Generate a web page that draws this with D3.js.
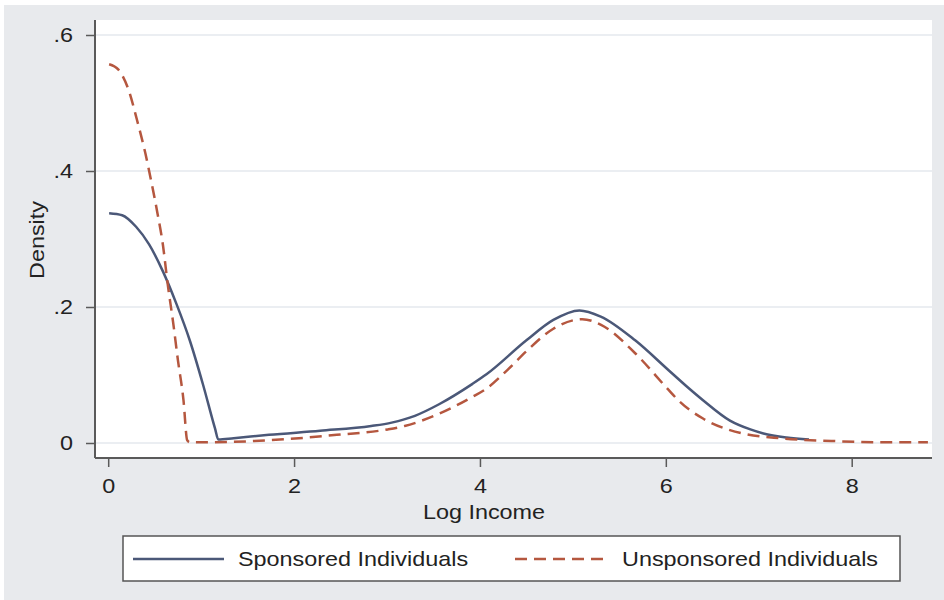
<!doctype html>
<html>
<head>
  <meta charset="utf-8">
  <title>log income density</title>
  <style>
    html, body { margin: 0; padding: 0; background: #fff; }
    svg { display: block; }
    text { font-family: "Liberation Sans", Arial, sans-serif; fill: #222; }
  </style>
</head>
<body>
  <div id="chart"></div>
  <script src="https://cdn.jsdelivr.net/npm/d3@7"></script>
  <script>
    // kernel density
    const sponsoredX = [0.01, 0.15, 0.30, 0.44, 0.59, 0.73, 0.88, 1.02, 1.15, 1.185, 1.35, 1.73, 2.28, 2.83, 3.05, 3.30, 3.56, 3.92, 4.07, 4.50, 4.79, 5.07, 5.30, 5.67, 6.03, 6.21, 6.40, 6.69, 6.91, 7.05, 7.30, 7.54];
    const sponsoredY = [0.338, 0.335, 0.318, 0.292, 0.252, 0.206, 0.150, 0.086, 0.021, 0.005, 0.007, 0.012, 0.018, 0.025, 0.030, 0.040, 0.057, 0.087, 0.101, 0.151, 0.181, 0.195, 0.186, 0.151, 0.107, 0.085, 0.063, 0.033, 0.020, 0.014, 0.008, 0.005];

    const unsponsoredX = [0.01, 0.11, 0.22, 0.31, 0.40, 0.46, 0.53, 0.59, 0.64, 0.70, 0.75, 0.81, 0.85, 0.88, 1.00, 1.73, 2.46, 3.01, 3.19, 3.56, 3.92, 4.07, 4.30, 4.50, 4.79, 5.10, 5.34, 5.67, 6.03, 6.14, 6.40, 6.69, 6.83, 7.23, 7.78, 8.30, 8.82];
    const unsponsoredY = [0.557, 0.549, 0.519, 0.475, 0.426, 0.387, 0.338, 0.290, 0.234, 0.176, 0.122, 0.063, 0.004, 0.001, 0.001, 0.004, 0.012, 0.020, 0.025, 0.043, 0.068, 0.080, 0.108, 0.135, 0.168, 0.182, 0.171, 0.132, 0.078, 0.062, 0.036, 0.019, 0.014, 0.007, 0.003, 0.001, 0.001];

    const xTicks = [0, 2, 4, 6, 8];
    const yTicks = [0, 0.2, 0.4, 0.6];
    const yTickLabels = ['0', '.2', '.4', '.6'];
    const seriesNames = ['Sponsored Individuals', 'Unsponsored Individuals'];

    const W = 944, H = 600;
    const stretch = 1.17; // glyphs in the picture are a bit wide
    const colSpon = '#4b5878';
    const colUnspon = '#b5573f';
    const dash = '12,7';

    const svg = d3.select('#chart').append('svg').attr('width', W).attr('height', H);

    // grey graph region
    svg.append('rect').attr('x', 4).attr('y', 5).attr('width', W - 4).attr('height', H - 5).attr('fill', '#e8eaed');

    const plot = { left: 95, right: 932, top: 20, bottom: 458 };
    svg.append('rect').attr('x', plot.left).attr('y', plot.top)
      .attr('width', plot.right - plot.left).attr('height', plot.bottom - plot.top).attr('fill', '#fff');

    const x = d3.scaleLinear().domain([-0.142, 8.864]).range([plot.left, plot.right]);
    const y = d3.scaleLinear().domain([0, 0.6]).range([443, 35]);

    // horizontal grid
    svg.append('g').selectAll('line').data(yTicks).join('line')
      .attr('x1', plot.left).attr('x2', plot.right)
      .attr('y1', d => y(d)).attr('y2', d => y(d))
      .attr('stroke', '#e4e9ee').attr('stroke-width', 1.5);

    // axes
    const yAxis = d3.axisLeft(y).tickValues(yTicks).tickSize(9).tickPadding(13)
      .tickFormat((d, i) => yTickLabels[i]);
    const gy = svg.append('g').attr('transform', `translate(${plot.left},0)`).call(yAxis);

    const xAxis = d3.axisBottom(x).tickValues(xTicks).tickSize(9).tickPadding(12).tickFormat(d3.format('d'));
    const gx = svg.append('g').attr('transform', `translate(0,${plot.bottom})`).call(xAxis);

    [gx, gy].forEach(g => {
      g.select('.domain').attr('stroke', '#5a5a5a').attr('stroke-width', 2);
      g.selectAll('.tick line').attr('stroke', '#5a5a5a').attr('stroke-width', 1.5);
      g.selectAll('.tick text').attr('font-size', 20).attr('fill', '#222')
        .attr('font-family', '"Liberation Sans", Arial, sans-serif');
    });
    gx.select('.domain').attr('d', `M${plot.left},0H${plot.right}`);
    gy.select('.domain').attr('d', `M0,${plot.top}V${plot.bottom}`);
    gx.selectAll('.tick text').attr('transform', `scale(${stretch},1)`);
    gy.selectAll('.tick text').attr('x', -13 / stretch - 9 / stretch).attr('transform', `scale(${stretch},1)`);

    // lines
    const line = d3.line().x(d => x(d[0])).y(d => y(d[1])).curve(d3.curveMonotoneX);
    const spon = d3.zip(sponsoredX, sponsoredY);
    const unspon = d3.zip(unsponsoredX, unsponsoredY);

    svg.append('path').datum(spon).attr('d', line)
      .attr('fill', 'none').attr('stroke', colSpon).attr('stroke-width', 2.5);
    svg.append('path').datum(unspon).attr('d', line)
      .attr('fill', 'none').attr('stroke', colUnspon).attr('stroke-width', 2.5)
      .attr('stroke-dasharray', dash);

    // axis titles
    const label = (tx, ty, txt, rot) => {
      svg.append('text')
        .attr('transform', `translate(${tx},${ty}) rotate(${rot || 0}) scale(${stretch},1)`)
        .attr('text-anchor', 'middle').attr('font-size', 20).text(txt);
    };
    label(484, 519, 'Log Income');
    label(44, 240, 'Density', -90);

    // legend
    const leg = svg.append('g');
    leg.append('rect').attr('x', 123).attr('y', 536).attr('width', 777).attr('height', 45)
      .attr('fill', '#fff').attr('stroke', '#555').attr('stroke-width', 1.5);
    const legItems = [
      { name: seriesNames[0], color: colSpon, dash: null, x0: 133, x1: 224, tx: 238 },
      { name: seriesNames[1], color: colUnspon, dash: dash, x0: 515, x1: 607, tx: 622 }
    ];
    legItems.forEach(it => {
      leg.append('line').attr('x1', it.x0).attr('x2', it.x1).attr('y1', 559).attr('y2', 559)
        .attr('stroke', it.color).attr('stroke-width', 2.5).attr('stroke-dasharray', it.dash);
      leg.append('text').attr('transform', `translate(${it.tx},566) scale(${stretch},1)`)
        .attr('font-size', 20).text(it.name);
    });
  </script>
</body>
</html>
